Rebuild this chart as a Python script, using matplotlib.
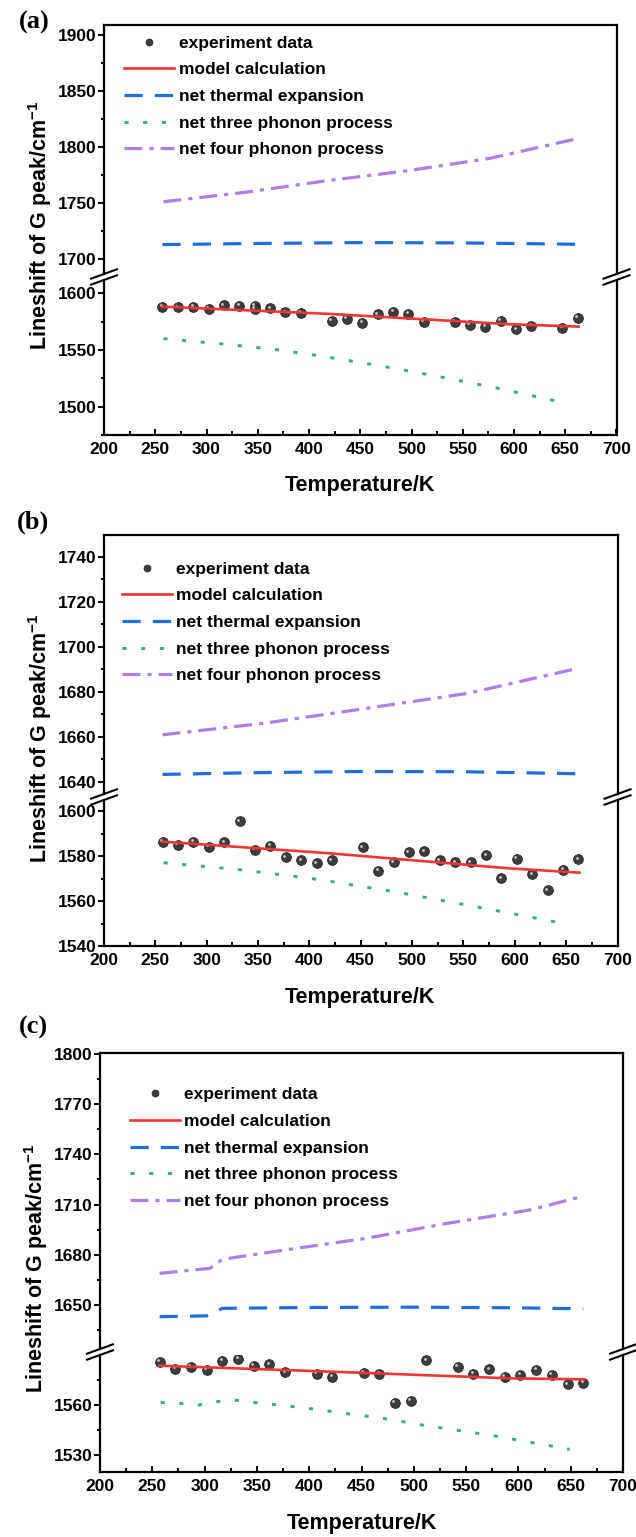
import matplotlib
matplotlib.use('Agg')
import matplotlib.pyplot as plt
from matplotlib.lines import Line2D
from matplotlib.ticker import MultipleLocator, FixedLocator
from matplotlib.transforms import offset_copy

plt.rcParams['font.family'] = ['Liberation Sans', 'DejaVu Sans']
plt.rcParams['font.weight'] = 'bold'
plt.rcParams['mathtext.fontset'] = 'custom'
plt.rcParams['mathtext.rm'] = 'Liberation Sans:bold'
plt.rcParams['mathtext.bf'] = 'Liberation Sans:bold'

W, H = 636, 1537

LABELS = ['experiment data', 'model calculation', 'net thermal expansion',
          'net three phonon process', 'net four phonon process']
X_LABEL = 'Temperature/K'
Y_LABEL = 'Lineshift of G peak/cm$^{-1}$'

# ---- (a) ----
temp_a = [257, 272, 287, 302, 317, 332, 347, 347, 362, 377, 392, 422, 437, 452,
          467, 482, 497, 512, 542, 557, 572, 587, 602, 617, 647, 662]
exp_a = [1588.2, 1587.7, 1587.9, 1586.2, 1589.4, 1589.1, 1589.0, 1586.5, 1586.8,
         1583.2, 1582.6, 1575.6, 1577.3, 1573.8, 1581.5, 1583.8, 1581.7, 1574.7,
         1575.0, 1572.0, 1570.5, 1575.6, 1568.3, 1571.4, 1569.7, 1578.5]
model_t_a = [257, 420, 596, 663]
model_a = [1588.2, 1581.8, 1572.7, 1570.6]
thermal_t_a = [257, 350, 450, 550, 662]
thermal_a = [1713.0, 1714.0, 1714.8, 1714.5, 1713.3]
three_t_a = [258, 312, 366, 419, 472, 525, 578, 649]
three_a = [1560.0, 1555.6, 1550.6, 1543.6, 1535.6, 1526.8, 1517.4, 1503.5]
four_t_a = [258, 337, 417, 496, 576, 660]
four_a = [1751.2, 1759.5, 1769.9, 1778.8, 1789.8, 1807.0]

# ---- (b) ----
temp_b = [257, 272, 287, 302, 317, 332, 347, 362, 377, 392, 407, 422, 452, 467,
          482, 497, 512, 527, 542, 557, 572, 587, 602, 617, 632, 647, 662]
exp_b = [1586.4, 1584.9, 1586.4, 1584.1, 1586.1, 1595.4, 1582.7, 1584.6, 1579.4,
         1578.2, 1576.8, 1578.2, 1583.9, 1573.5, 1577.3, 1581.6, 1582.2, 1578.2,
         1577.2, 1577.3, 1580.4, 1570.1, 1578.7, 1571.9, 1564.7, 1573.8, 1578.5]
model_t_b = [257, 420, 595, 663]
model_b = [1586.4, 1581.2, 1574.5, 1572.6]
thermal_t_b = [257, 350, 450, 550, 662]
thermal_b = [1643.2, 1644.0, 1644.5, 1644.4, 1643.5]
three_t_b = [258, 329, 400, 417, 488, 558, 648]
three_b = [1577.0, 1574.1, 1570.1, 1569.0, 1563.7, 1557.8, 1550.0]
four_t_b = [257, 357, 456, 555, 662]
four_b = [1660.8, 1666.0, 1672.6, 1679.3, 1690.4]

# ---- (c) ----
temp_c = [257, 272, 287, 302, 317, 332, 347, 362, 377, 407, 422, 452, 467, 482,
          497, 512, 542, 557, 572, 587, 602, 617, 632, 647, 662]
exp_c = [1586.0, 1581.6, 1582.8, 1581.0, 1586.6, 1587.6, 1583.6, 1584.4, 1579.6,
         1578.8, 1577.0, 1579.4, 1578.8, 1561.4, 1562.4, 1586.8, 1582.8, 1578.6,
         1581.4, 1576.8, 1578.0, 1581.0, 1578.0, 1572.4, 1573.4]
model_t_c = [257, 421, 592, 663]
model_c = [1583.6, 1580.0, 1576.0, 1575.4]
thermal_t_c = [257, 302, 317, 400, 500, 600, 662]
thermal_c = [1643.0, 1643.5, 1648.0, 1648.5, 1648.7, 1648.3, 1647.7]
three_t_c = [258, 276, 294, 311, 328, 346, 364, 399, 434, 469, 508, 578, 649]
three_c = [1561.5, 1561.0, 1560.0, 1562.0, 1563.0, 1561.6, 1560.4, 1558.0,
           1555.0, 1552.2, 1548.0, 1541.4, 1533.4]
four_t_c = [257, 305, 317, 377, 455, 533, 611, 662]
four_c = [1668.9, 1671.9, 1677.3, 1682.9, 1689.9, 1698.9, 1706.8, 1715.0]

RED = '#f03535'
BLUE = '#1f6fe0'
GREEN = '#2fb366'
PURPLE = '#b07ee3'
BALL = '#3d3d3d'


def fx(px):
    return px / W


def fy(py):
    return 1 - py / H


def rect(left, top, right, bottom):
    return [fx(left), fy(bottom), (right - left) / W, (bottom - top) / H]


def style_axis(ax, lw=1.6):
    for s in ax.spines.values():
        s.set_linewidth(lw)
    ax.set_xlim(200, 700)
    ax.tick_params(axis='y', which='both', direction='out', left=True, right=False,
                   labelsize=12.5, width=1.4, pad=1.5)
    ax.tick_params(axis='y', which='major', length=4)
    ax.tick_params(axis='y', which='minor', length=2.5)


def add_break_marks(fig, left, right, y_break, gap):
    # two parallel slashes across each spine (Origin style axis break)
    for x0 in (left, right):
        for yy in (y_break - gap / 2, y_break + gap / 2):
            xs = [x0 - 13, x0 + 13]
            ys = [yy + 4.7, yy - 4.7]
            fig.add_artist(Line2D([fx(v) for v in xs], [fy(v) for v in ys],
                                  transform=fig.transFigure, color='black', lw=1.5))


def draw_panel(fig, box, data):
    (exp_t, exp_y, model_t, model_y, thermal_t, thermal_y,
     three_t, three_y, four_t, four_y) = data
    gap = 6
    brk = box['brk']
    ax_up = fig.add_axes(rect(box['left'], box['top'], box['right'], brk - gap / 2))
    ax_lo = fig.add_axes(rect(box['left'], brk + gap / 2, box['right'], box['bottom']))

    style_axis(ax_up)
    style_axis(ax_lo)
    ax_up.spines['bottom'].set_visible(False)
    ax_lo.spines['top'].set_visible(False)
    ax_up.tick_params(axis='x', which='both', bottom=False, top=False, labelbottom=False)
    ax_lo.tick_params(axis='x', which='both', direction='in', top=False,
                      labelsize=12.5, width=1.4, pad=5)
    ax_lo.tick_params(axis='x', which='major', length=4.5)
    ax_lo.tick_params(axis='x', which='minor', length=3)
    ax_lo.xaxis.set_major_locator(MultipleLocator(50))
    ax_lo.xaxis.set_minor_locator(MultipleLocator(25))

    ax_up.set_ylim(*box['up_lim'])
    ax_lo.set_ylim(*box['lo_lim'])
    ax_up.yaxis.set_major_locator(MultipleLocator(box['up_step']))
    ax_up.yaxis.set_minor_locator(MultipleLocator(box['up_step'] / 2))
    ax_lo.yaxis.set_major_locator(FixedLocator(box['lo_major']))
    ax_lo.yaxis.set_minor_locator(FixedLocator(box['lo_minor']))

    # lower segment: data, model, three phonon
    pts, = ax_lo.plot(exp_t, exp_y, 'o', ms=7.0, mfc=BALL, mec='#222222', mew=0.6,
                      zorder=2)
    hl = offset_copy(ax_lo.transData, fig=fig, x=-1.1, y=1.1, units='points')
    ax_lo.plot(exp_t, exp_y, 'o', ms=2.0, mfc='#c8c8c8', mec='none', transform=hl,
               zorder=2.5)
    red, = ax_lo.plot(model_t, model_y, '-', color=RED, lw=1.9, zorder=3)
    green, = ax_lo.plot(three_t, three_y, color=GREEN, lw=2.1, dashes=(1.4, 5.0),
                        zorder=1)
    # upper segment: thermal expansion and four phonon
    blue, = ax_up.plot(thermal_t, thermal_y, color=BLUE, lw=2.3, dashes=(5.7, 3.8))
    purple, = ax_up.plot(four_t, four_y, color=PURPLE, lw=2.3,
                         dashes=(5.6, 2.2, 1.3, 2.2))

    lx, ly = box['legend']
    ax_up.legend([pts, red, blue, green, purple], LABELS, loc='upper left',
                 bbox_to_anchor=(fx(lx), fy(ly - 6)), bbox_transform=fig.transFigure,
                 frameon=False, borderpad=0, borderaxespad=0, fontsize=12.5,
                 handlelength=2.9, handletextpad=0.25, labelspacing=0.66,
                 markerscale=0.7, numpoints=1)

    add_break_marks(fig, box['left'], box['right'], brk, gap)

    fig.text(fx(box['tag'][0]), fy(box['tag'][1]), box['name'],
             family=['Liberation Serif', 'DejaVu Serif'], fontsize=19,
             fontweight='bold', ha='center', va='center')
    fig.text(fx(box['ylab'][0]), fy(box['ylab'][1]), Y_LABEL, rotation=90,
             fontsize=15.5, fontweight='bold', ha='center', va='center')
    fig.text(fx(box['xlab'][0]), fy(box['xlab'][1]), X_LABEL,
             fontsize=15.5, fontweight='bold', ha='center', va='center')


PANEL_BOXES = [
    dict(name='(a)', left=104, right=616.5, top=25, bottom=435, brk=277,
         up_lim=(1686.8, 1908.7), lo_lim=(1475.0, 1611.7), up_step=50,
         lo_major=[1500, 1550, 1600], lo_minor=[1475, 1525, 1575],
         legend=(124, 41.7), tag=(34, 22.5), ylab=(40, 225), xlab=(360, 485)),
    dict(name='(b)', left=104, right=617.5, top=535, bottom=946, brk=797,
         up_lim=(1634.5, 1749.6), lo_lim=(1540.0, 1604.9), up_step=20,
         lo_major=[1540, 1560, 1580, 1600], lo_minor=[1550, 1570, 1590],
         legend=(121.5, 567.7), tag=(33, 522), ylab=(40, 738), xlab=(360, 997)),
    dict(name='(c)', left=100, right=623, top=1053, bottom=1472, brk=1352,
         up_lim=(1623.7, 1800.6), lo_lim=(1519.8, 1590.0), up_step=30,
         lo_major=[1530, 1560], lo_minor=[1545, 1575],
         legend=(129.6, 1093.3), tag=(33, 1027), ylab=(36, 1268), xlab=(362, 1523)),
]

PANEL_DATA = [
    (temp_a, exp_a, model_t_a, model_a, thermal_t_a, thermal_a,
     three_t_a, three_a, four_t_a, four_a),
    (temp_b, exp_b, model_t_b, model_b, thermal_t_b, thermal_b,
     three_t_b, three_b, four_t_b, four_b),
    (temp_c, exp_c, model_t_c, model_c, thermal_t_c, thermal_c,
     three_t_c, three_c, four_t_c, four_c),
]


def main():
    fig = plt.figure(figsize=(W / 100, H / 100), dpi=100)
    for box, data in zip(PANEL_BOXES, PANEL_DATA):
        draw_panel(fig, box, data)
    fig.savefig('out.png', dpi=100)
    plt.close(fig)


if __name__ == '__main__':
    main()
